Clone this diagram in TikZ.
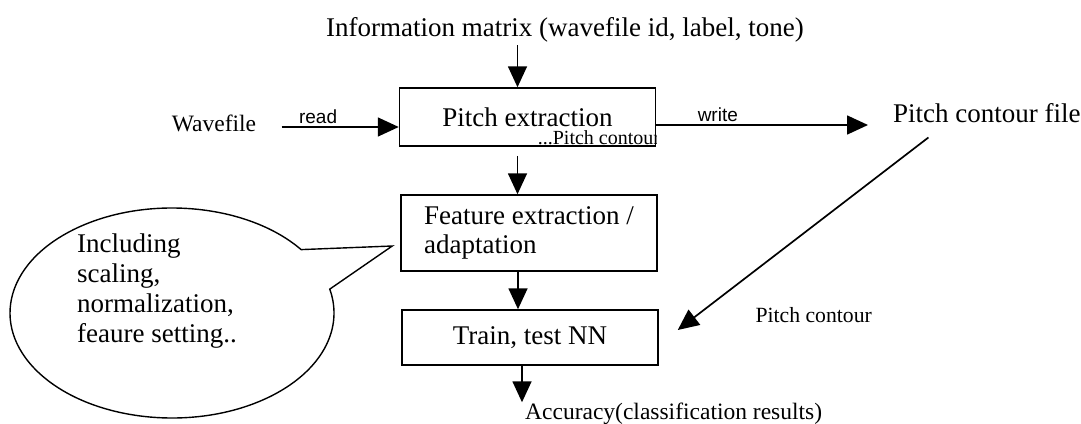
\documentclass[tikz,border=0pt]{standalone}
\usepackage{fontspec}
\setmainfont{Liberation Serif}
\newfontfamily\labelfont{Liberation Sans}
\usetikzlibrary{arrows.meta}
\usetikzlibrary{shapes.callouts}
\usetikzlibrary{positioning}

\begin{document}
\begin{tikzpicture}[x=1pt,y=-1pt,
  stage/.style={rectangle,draw=black,line width=1.5pt,
    minimum width=256pt,align=left,inner sep=0pt,
    font=\fontsize{27}{29}\selectfont},
  arr/.style={-{Triangle[length=21pt,width=19pt]},line width=1.7pt},
  lbl/.style={font=\labelfont\fontsize{19}{22}\selectfont,inner sep=2pt}
]
  \useasboundingbox (0,0) rectangle (1081,423);
  \node[font=\fontsize{27}{32}\selectfont,anchor=base] (info) at (565,36)
    {Information matrix (wavefile id, label, tone)};
  \node[stage,minimum height=58pt] (pitch) at (527.5,117) {Pitch extraction};
  \node[stage,minimum height=76pt] (feat) at (529,233)
    {Feature extraction /\\adaptation};
  \node[stage,minimum height=55pt] (train) at (530,337.5) {Train, test NN};
  \node[font=\fontsize{23.5}{28}\selectfont] (wave) at (214,123) {Wavefile};
  \node[font=\fontsize{27}{32}\selectfont,anchor=base west,inner sep=0pt] (pcf)
    at (893,122) {Pitch contour file};
  \node[font=\fontsize{21.7}{26}\selectfont,anchor=west] (pclbl) at (752,315)
    {Pitch contour};
  \node[font=\fontsize{23.5}{28}\selectfont,anchor=base west,inner sep=0pt] (acc)
    at (525,419) {Accuracy(classification results)};
  \begin{scope}
    \clip (pitch.south west) rectangle (pitch.north east);
    \node[font=\fontsize{20}{24}\selectfont,anchor=base east,inner sep=0pt] (pcin)
      at ([xshift=4pt,yshift=2pt]pitch.south east) {...Pitch contour};
  \end{scope}
  \node[ellipse callout,draw,line width=1.4pt,minimum width=324pt,
    minimum height=210pt,callout pointer arc=24,
    callout absolute pointer={([xshift=-8pt,yshift=-13pt]feat.west)}] (note)
    at (172,313) {};
  \node[font=\fontsize{27}{30}\selectfont,align=left,anchor=north west,
    inner sep=0pt] (notetext) at (77,234)
    {Including\\scaling,\\normalization,\\feaure setting..};
  \draw[arr] ([xshift=-10pt]pitch.north |- info.south) -- ([xshift=-10pt]pitch.north);
  \draw[arr,shorten <=22pt] ([yshift=-10pt]pitch.west -| wave.east)
    -- ([yshift=-10pt]pitch.west) node[lbl,above,pos=0.42] {read};
  \draw[arr,shorten >=25pt] ([yshift=-8pt]pitch.east)
    -- ([yshift=-8pt]pitch.east -| pcf.west) node[lbl,above,pos=0.26] {write};
  \draw[arr,shorten <=9pt] ([xshift=-10pt]pitch.south)
    -- ([xshift=-10pt]pitch.south |- feat.north);
  \draw[arr] ([xshift=-11pt]feat.south) -- ([xshift=-11pt]feat.south |- train.north);
  \draw[arr] ([xshift=-8pt]train.south) -- ([xshift=-8pt]train.south |- acc.north);
  \draw[arr] ([xshift=-58.5pt,yshift=-15pt]pcf.south)
    -- ([xshift=19pt,yshift=7.5pt]train.east);
\end{tikzpicture}
\end{document}
